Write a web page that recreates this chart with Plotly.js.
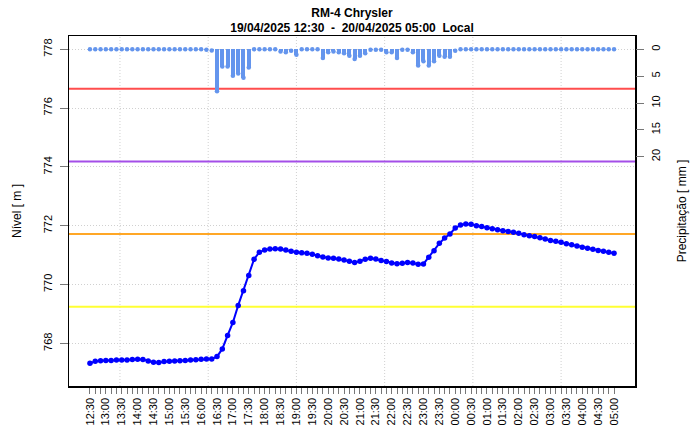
<!DOCTYPE html>
<html>
<head>
<meta charset="utf-8">
<script src="https://cdn.plot.ly/plotly-3.0.1.min.js"></script>
<style>html,body{margin:0;padding:0;background:#fff;}#chart{width:693px;height:440px;}</style>
</head>
<body>
<div id="chart"></div>
<script>
// ---- data ----
const timeLabels = [
 "12:30","12:40","12:50","13:00","13:10","13:20","13:30","13:40","13:50","14:00","14:10","14:20",
 "14:30","14:40","14:50","15:00","15:10","15:20","15:30","15:40","15:50","16:00","16:10","16:20",
 "16:30","16:40","16:50","17:00","17:10","17:20","17:30","17:40","17:50","18:00","18:10","18:20",
 "18:30","18:40","18:50","19:00","19:10","19:20","19:30","19:40","19:50","20:00","20:10","20:20",
 "20:30","20:40","20:50","21:00","21:10","21:20","21:30","21:40","21:50","22:00","22:10","22:20",
 "22:30","22:40","22:50","23:00","23:10","23:20","23:30","23:40","23:50",
 "00:00","00:10","00:20","00:30","00:40","00:50","01:00","01:10","01:20","01:30","01:40","01:50",
 "02:00","02:10","02:20","02:30","02:40","02:50","03:00","03:10","03:20","03:30","03:40","03:50",
 "04:00","04:10","04:20","04:30","04:40","04:50","05:00"
];
const nivel = [
 767.32,767.39,767.41,767.42,767.42,767.43,767.43,767.43,767.45,767.46,767.45,767.40,
 767.36,767.35,767.38,767.39,767.40,767.41,767.42,767.43,767.44,767.46,767.47,767.47,
 767.55,767.81,768.27,768.71,769.29,769.79,770.31,770.86,771.10,771.17,771.21,771.22,
 771.21,771.17,771.13,771.10,771.08,771.06,771.03,770.98,770.94,770.90,770.89,770.87,
 770.83,770.79,770.75,770.79,770.86,770.89,770.87,770.82,770.78,770.73,770.71,770.72,
 770.75,770.73,770.69,770.70,770.93,771.15,771.40,771.58,771.72,
 771.92,772.02,772.06,772.05,772.00,771.97,771.93,771.90,771.86,771.83,771.80,771.78,
 771.74,771.69,771.66,771.63,771.59,771.55,771.50,771.47,771.44,771.39,771.35,771.31,
 771.27,771.23,771.20,771.16,771.13,771.10,771.06
];
const precip = [
 0,0,0,0,0,0,0,0,0,0,0,0,
 0,0,0,0,0,0,0,0,0,0,0.1,0.2,
 7.8,3.2,3.2,4.9,4.5,5.3,3.4,0,0,0,0,0,
 0.4,0.55,0.25,1.0,0,0,0,0,1.6,0.55,0.4,0.55,
 0.75,1.2,1.8,1.2,0.75,0.1,0.1,0.1,0.55,0.55,1.6,0.1,
 0.1,0.55,3.0,2.2,3.0,2.2,1.2,1.4,1.4,
 0.25,0,0,0,0,0,0,0,0,0,0,0,
 0,0,0,0,0,0,0,0,0,0,0,0,
 0,0,0,0,0,0,0
];
const thresholds = [776.66, 774.18, 771.72, 769.245];
const thresholdColors = ["#ff4d4d", "#a44ee8", "#ffa726", "#ffff33"];
const gridTimes = ["2025-04-19 13:26:40","2025-04-19 16:13:20","2025-04-19 19:00:00",
                   "2025-04-19 21:46:40","2025-04-20 00:33:20","2025-04-20 03:20:00"];
const titleText = "<b>RM-4 Chrysler</b><br><b>19/04/2025 12:30&nbsp;&nbsp;-&nbsp;&nbsp;20/04/2025 05:00&nbsp;&nbsp;Local</b>";

// ---- build ----
const times = timeLabels.map(t => (parseInt(t.slice(0,2),10) >= 12 ? "2025-04-19 " : "2025-04-20 ") + t + ":00");
const tickText = timeLabels.map(t => (t.slice(3) === "00" || t.slice(3) === "30") ? t : "");

const shapes = [];
gridTimes.forEach(g => shapes.push({type:"line", xref:"x", yref:"paper", x0:g, x1:g, y0:0, y1:1,
  line:{color:"#d0d0d0", width:1, dash:"1px,2px"}, layer:"below"}));
thresholds.forEach((v,k) => shapes.push({type:"line", xref:"paper", yref:"y", x0:0, x1:1, y0:v, y1:v,
  line:{color:thresholdColors[k], width:2}, layer:"below"}));

const traces = [
  {x: times, y: precip, type:"bar", yaxis:"y2", width:450000,
   marker:{color:"#6495ED", line:{width:0}}, hoverinfo:"skip"},
  {x: times, y: precip, type:"scatter", mode:"markers", yaxis:"y2",
   marker:{color:"#6495ED", size:4.5}, hoverinfo:"skip"},
  {x: times, y: nivel, type:"scatter", mode:"lines+markers", yaxis:"y",
   line:{color:"#0000ff", width:2}, marker:{color:"#0000ff", size:5.5}, hoverinfo:"skip"}
];

const axisFont = {family:"Liberation Sans, Arial, sans-serif", size:11, color:"#000"};
const layout = {
  width:693, height:440,
  margin:{l:69, r:58, t:36, b:54, pad:0},
  paper_bgcolor:"#fff", plot_bgcolor:"#fff",
  showlegend:false, hovermode:false, bargap:0,
  font:{family:"Liberation Sans, Arial, sans-serif", size:11, color:"#000"},
  title:{text:titleText, font:{family:"Liberation Sans, Arial, sans-serif", size:12, color:"#000"},
         x:0.5, xref:"paper", xanchor:"center", y:0.962, yref:"container", yanchor:"top"},
  xaxis:{type:"date", range:["2025-04-19 11:50:24","2025-04-20 05:39:36"],
         tickmode:"array", tickvals:times, ticktext:tickText, tickangle:-90,
         ticks:"outside", ticklen:6, tickcolor:"#777", tickwidth:1, tickfont:axisFont,
         showgrid:false, zeroline:false, showline:true, linecolor:"#000", linewidth:1.5, mirror:true,
         fixedrange:true},
  yaxis:{range:[766.55, 778.45], tickvals:[768,770,772,774,776,778], tickangle:-90,
         ticks:"outside", ticklen:8, tickcolor:"#777", tickwidth:1, tickfont:axisFont, ticklabelstandoff:3,
         showgrid:true, gridcolor:"#d0d0d0", griddash:"1px,2px", gridwidth:1, zeroline:false,
         showline:true, linecolor:"#000", linewidth:1.5, mirror:true,
         title:{text:"Nível [ m ]", font:{family:"Liberation Sans, Arial, sans-serif", size:12, color:"#000"}, standoff:18}},
  yaxis2:{overlaying:"y", side:"right", range:[62.7, -2.48], tickvals:[0,5,10,15,20], tickangle:-90,
          ticks:"outside", ticklen:8, tickcolor:"#777", tickwidth:1, tickfont:axisFont, ticklabelstandoff:3,
          showgrid:false, zeroline:false, showline:false,
          title:{text:"Precipitação [ mm ]", font:{family:"Liberation Sans, Arial, sans-serif", size:12, color:"#000"}, standoff:16}},
  shapes: shapes
};

Plotly.newPlot("chart", traces, layout, {staticPlot:true, displayModeBar:false});
</script>
</body>
</html>
